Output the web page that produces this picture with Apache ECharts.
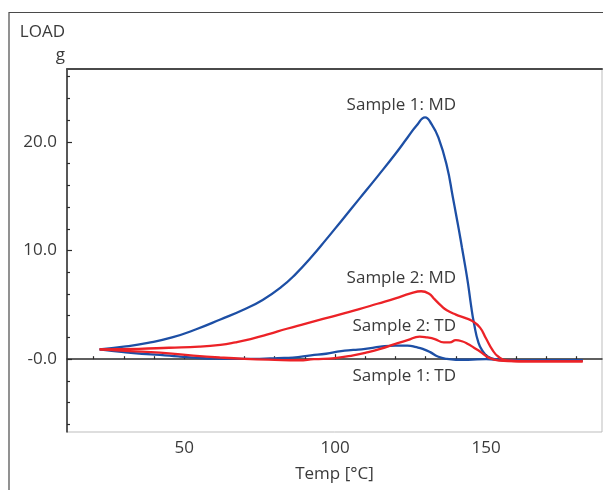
<!DOCTYPE html>
<html>
<head>
<meta charset="utf-8">
<script src="https://cdn.jsdelivr.net/npm/echarts@6/dist/echarts.min.js"></script>
<style>
  html, body { margin: 0; padding: 0; background: #fff; }
  #chart { width: 603px; height: 490px; }
</style>
</head>
<body>
<div id="chart"></div>
<script>
// Load vs temperature curves, [temp °C, load g]
const sample1MD = [
  [22, 0.9], [30, 1.15], [38, 1.5], [46, 2.0], [54, 2.75], [62, 3.65], [70, 4.6],
  [76, 5.45], [82, 6.6], [87, 7.85], [92, 9.35], [97, 11.0], [102, 12.7], [108, 14.75],
  [114, 16.8], [120, 18.9], [124, 20.4], [127, 21.5], [129.8, 22.25],
  [132, 21.6], [134.2, 20.4], [137, 17.8], [139, 14.9], [140, 13.4], [141, 11.9],
  [142, 10.3], [143, 8.7], [144, 7.0], [145, 5.0], [146, 3.3], [147.5, 1.5],
  [149, 0.7], [150.5, 0.25], [153, 0.0], [158, -0.12], [170, -0.1], [182, -0.1]
];
const sample2MD = [
  [22, 0.9], [35, 0.95], [45, 1.05], [55, 1.15], [62, 1.32], [67, 1.55], [72, 1.85],
  [78, 2.3], [84, 2.8], [90, 3.25], [96, 3.7], [102, 4.15], [108, 4.6], [114, 5.1],
  [120, 5.6], [125, 6.05], [128.5, 6.25], [131, 6.05], [133, 5.5], [135, 4.95],
  [137, 4.5], [140, 4.1], [143, 3.8], [145.5, 3.5], [148, 2.9], [150, 1.9],
  [152, 0.9], [154, 0.25], [157, -0.12], [165, -0.2], [182, -0.2]
];
const sample2TD = [
  [22, 0.9], [32, 0.75], [42, 0.6], [53, 0.33], [62, 0.15], [70, 0.03], [80, -0.06],
  [88, -0.1], [93, 0.0], [100, 0.1], [106, 0.35], [111, 0.65], [115, 0.95], [120, 1.4],
  [124, 1.75], [128, 2.08], [130.5, 2.0], [133, 1.85], [136, 1.55], [138, 1.55],
  [140, 1.75], [142, 1.65], [144, 1.4], [146, 1.05], [148, 0.7], [151, 0.12],
  [154.5, -0.13], [160, -0.2], [170, -0.2], [182, -0.2]
];
const sample1TD = [
  [22, 0.9], [30, 0.65], [36, 0.5], [42, 0.4], [48, 0.25], [53, 0.15], [60, 0.05],
  [66, 0.03], [75, 0.03], [81, 0.1], [86, 0.15], [92, 0.35], [97, 0.5], [102, 0.75],
  [106, 0.85], [110, 0.95], [115, 1.15], [120, 1.25], [124, 1.25], [127, 1.1],
  [129, 0.95], [131.5, 0.65], [134, 0.25], [137, 0.02], [140, -0.05], [144, -0.05],
  [150, 0.0], [155, -0.08], [160, -0.15], [170, -0.12], [182, -0.12]
];

const xMajorTicks = [50, 100, 150];
const xMinorTicks = [20, 30, 40, 60, 70, 80, 90, 110, 120, 130, 140, 160, 170, 180];
const yMajorTicks = [0, 10, 20];
const yMinorTicks = [-6, -4, -2, 2, 4, 6, 8, 12, 14, 16, 18, 22, 24, 26];

const BLUE = "#1d4fa5";
const RED = "#ec2227";
const TEXT = "#3a3a3a";
const FONT = "'Open Sans', 'Noto Sans', sans-serif";

const chart = echarts.init(document.getElementById("chart"), null, { renderer: "canvas" });

const xRange = { min: 11.2, max: 188.4 };
const yRange = { min: -6.7, max: 26.7 };

const lineSeries = (name, data, color) => ({
  name,
  type: "line",
  data,
  smooth: 0.5,
  symbol: "none",
  lineStyle: { color, width: 2.3 },
  z: color === RED ? 3 : 2
});

const option = {
  backgroundColor: "#fff",
  animation: false,
  grid: {
    left: 67, right: 1, top: 69, bottom: 58,
    show: true, borderColor: "#bdbdbd", borderWidth: 1
  },
  xAxis: [
    {
      type: "value", ...xRange,
      name: "Temp [°C]",
      nameLocation: "middle",
      nameGap: 34,
      nameTextStyle: { color: TEXT, fontSize: 17, fontFamily: FONT },
      axisLine: { lineStyle: { color: "#2b2b2b", width: 1.5 } },
      axisTick: { inside: true, length: 5, customValues: xMajorTicks, lineStyle: { color: "#2b2b2b", width: 1.2 } },
      axisLabel: { customValues: xMajorTicks, color: TEXT, fontSize: 17, fontFamily: FONT, margin: 8 },
      splitLine: { show: false }
    },
    {
      type: "value", ...xRange, position: "bottom",
      axisLine: { show: false },
      axisTick: { inside: true, length: 3, customValues: xMinorTicks, lineStyle: { color: "#2b2b2b", width: 1.2 } },
      axisLabel: { show: false },
      splitLine: { show: false }
    },
    {
      type: "value", ...xRange, position: "top",
      axisLine: { lineStyle: { color: "#4a4a4a", width: 2 } },
      axisTick: { show: false },
      axisLabel: { show: false },
      splitLine: { show: false }
    }
  ],
  yAxis: [
    {
      type: "value", ...yRange,
      axisLine: { show: true, lineStyle: { color: "#2b2b2b", width: 1.5 } },
      axisTick: { show: true, inside: true, length: 5, customValues: yMajorTicks, lineStyle: { color: "#2b2b2b", width: 1.2 } },
      axisLabel: {
        customValues: yMajorTicks, color: TEXT, fontSize: 17, fontFamily: FONT, margin: 10,
        formatter: (v) => (v === 0 ? "-0.0" : v.toFixed(1))
      },
      splitLine: { show: false }
    },
    {
      type: "value", ...yRange, position: "left",
      axisLine: { show: false },
      axisTick: { show: true, inside: true, length: 3, customValues: yMinorTicks, lineStyle: { color: "#2b2b2b", width: 1.2 } },
      axisLabel: { show: false },
      splitLine: { show: false }
    }
  ],
  series: [
    lineSeries("Sample 1: MD", sample1MD, BLUE),
    lineSeries("Sample 1: TD", sample1TD, BLUE),
    lineSeries("Sample 2: MD", sample2MD, RED),
    lineSeries("Sample 2: TD", sample2TD, RED)
  ],
  graphic: [
    // outer figure frame (left + top edges)
    {
      type: "polyline",
      shape: { points: [[9, 490], [9, 12.5], [603, 12.5]] },
      style: { stroke: "#4a4a4a", lineWidth: 1.2, fill: null },
      silent: true
    },
    { type: "text", x: 65, y: 32, style: { text: "LOAD", fill: TEXT, font: `17px ${FONT}`, align: "right", verticalAlign: "middle" } },
    { type: "text", x: 65, y: 55, style: { text: "g", fill: TEXT, font: `17px ${FONT}`, align: "right", verticalAlign: "middle" } },
    { type: "text", x: 456, y: 105, style: { text: "Sample 1: MD", fill: TEXT, font: `17px ${FONT}`, align: "right", verticalAlign: "middle" } },
    { type: "text", x: 456, y: 278, style: { text: "Sample 2: MD", fill: TEXT, font: `17px ${FONT}`, align: "right", verticalAlign: "middle" } },
    { type: "text", x: 456, y: 326, style: { text: "Sample 2: TD", fill: TEXT, font: `17px ${FONT}`, align: "right", verticalAlign: "middle" } },
    { type: "text", x: 456, y: 376, style: { text: "Sample 1: TD", fill: TEXT, font: `17px ${FONT}`, align: "right", verticalAlign: "middle" } }
  ]
};

chart.setOption(option);
</script>
</body>
</html>
